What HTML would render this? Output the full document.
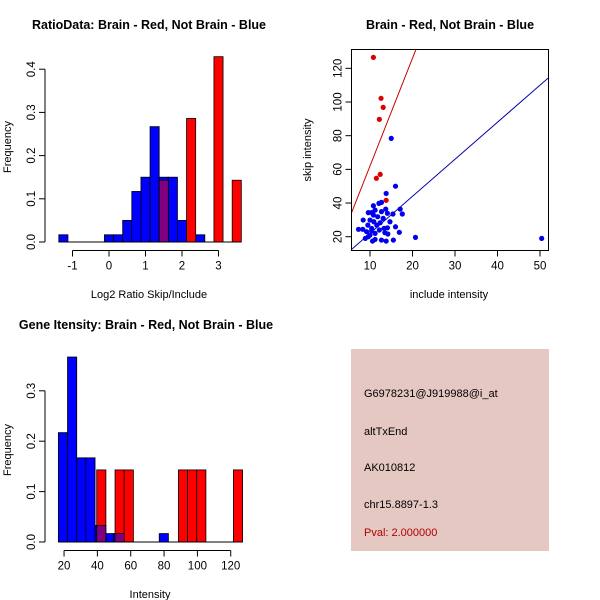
<!DOCTYPE html>
<html><head><meta charset="utf-8"><style>
body{margin:0;background:#fff}
svg{display:block;font-family:"Liberation Sans",sans-serif}
</style></head><body>
<svg id="c" width="600" height="600" viewBox="0 0 600 600"></svg>
<script>
// ---- Plot 1: ratio histogram ----
const ratioBlueStarts=[-1.375,-0.125,0.125,0.375,0.625,0.875,1.125,1.375,1.625,1.875,2.375];
const ratioBlueFreq=[0.0167,0.0167,0.0167,0.05,0.117,0.15,0.267,0.15,0.15,0.05,0.0167];
const ratioRedStarts=[1.375,2.125,2.875,3.375];
const ratioRedFreq=[0.143,0.286,0.429,0.143];
const ratioBinWidth=0.25;
const ratioXTicks=[-1,0,1,2,3];
const ratioYTicks=[0,0.1,0.2,0.3,0.4];
// ---- Plot 2: scatter ----
const redInclude=[10.8,12.6,13.1,12.2,12.4,11.5,13.8];
const redSkip=[126.5,102.2,96.8,89.7,57,54.7,41.6];
const blueInclude=[15,16,13.8,10.8,12.1,12.7,13.7,17.1,17.6,15.4,9.6,10.4,8.4,7.3,8.3,9.5,14.1,14.7,16,16.9,14.1,14.2,13.8,12.7,15.5,11.2,8.9,20.7,50.4,11.2,10,9.2,10.4,11.6,12.4,13.1,11.8,10.8,12.7,11.2,12.2,13.3,10.9,10,13.5,10.4,9.6,10.6];
const blueSkip=[78.4,50,45.7,38.4,39.8,40.4,36.4,36.4,33.5,33.5,34.3,34.3,29.9,24.4,24.4,26.9,33.9,28.9,25.9,22.6,25.3,21.6,17.4,18,18,18.4,19,19.6,19,22,21,23,24.9,26.9,28.3,30.9,31.9,32.9,34.9,35.8,24,25,28.9,29.9,22.4,23.6,20,17.4];
const redLine=[6.4,-2];   // slope, intercept
const blueLine=[2.2,0];
const scatXTicks=[10,20,30,40,50];
const scatYTicks=[20,40,60,80,100,120];
// ---- Plot 3: intensity histogram ----
const intBlueStarts=[16.6,22.1,27.6,33.1,38.6,44.1,49.6,77.1];
const intBlueFreq=[0.217,0.367,0.167,0.167,0.033,0.0167,0.0167,0.0167];
const intRedStarts=[39.6,50.6,56.1,88.6,94.1,99.6,121.6];
const intRedFreq=[0.143,0.143,0.143,0.143,0.143,0.143,0.143];
const intBinWidth=5.5;
const intXTicks=[20,40,60,80,100,120];
const intYTicks=[0,0.1,0.2,0.3];

const svg=document.getElementById('c');
const NS='http://www.w3.org/2000/svg';
function mk(tag,attrs,parent,txt){const e=document.createElementNS(NS,tag);for(const k in attrs)e.setAttribute(k,attrs[k]);if(txt!==undefined)e.textContent=txt;(parent||svg).appendChild(e);return e;}
function grp(name){const g=mk('g',{});return g;}

function axisX(g,ticks,sx,y,fmt){
  mk('line',{x1:sx(ticks[0]),x2:sx(ticks[ticks.length-1]),y1:y,y2:y,stroke:'#000'},g);
  ticks.forEach(t=>{mk('line',{x1:sx(t),x2:sx(t),y1:y,y2:y+6,stroke:'#000'},g);
    const tx=mk('text',{x:sx(t),y:y+19,'text-anchor':'middle','font-size':11.5},g,fmt?fmt(t):t);
    });
}
function axisY(g,ticks,sy,x,fmt){
  mk('line',{x1:x,x2:x,y1:sy(ticks[0]),y2:sy(ticks[ticks.length-1]),stroke:'#000'},g);
  ticks.forEach(t=>{mk('line',{x1:x,x2:x-6,y1:sy(t),y2:sy(t),stroke:'#000'},g);
    const tx=mk('text',{x:x-10,y:sy(t),'text-anchor':'middle','font-size':11.5,transform:`rotate(-90 ${x-10} ${sy(t)})`},g,fmt?fmt(t):t);
    });
}
function label(g,x,y,txt,name,opts){const t=mk('text',Object.assign({x:x,y:y,'text-anchor':'middle','font-size':11},opts||{}),g,txt);return t;}

function histo(g,bs,bf,rs,rf,w,sx,sy,name){
  bs.forEach((s,i)=>{const r=mk('rect',{x:sx(s),y:sy(bf[i]),width:sx(s+w)-sx(s),height:sy(0)-sy(bf[i]),fill:'#0000FF',stroke:'#000','stroke-width':0.8},g);
    });
  rs.forEach((s,i)=>{
    let ov=0;bs.forEach((b,j)=>{if(Math.abs(b-s)<w*0.6)ov=bf[j];});
    const r=mk('rect',{x:sx(s),y:sy(rf[i]),width:sx(s+w)-sx(s),height:sy(0)-sy(rf[i]),fill:'#FF0000',stroke:'#000','stroke-width':0.8},g);
    
    if(ov>0){const m=Math.min(ov,rf[i]);const p=mk('rect',{x:sx(s),y:sy(m),width:sx(s+w)-sx(s),height:sy(0)-sy(m),fill:'#800080',stroke:'#000','stroke-width':0.8},g);
      }
  });
}
const f1=t=>t.toFixed(1);

// Plot 1
(function(){
  const g=grp('ratio-histogram');
  const sx=v=>109+v*36.5, sy=v=>242-v*432;
  histo(g,ratioBlueStarts,ratioBlueFreq,ratioRedStarts,ratioRedFreq,ratioBinWidth,sx,sy,'ratio');
  mk('line',{x1:sx(-1.375),x2:sx(3.625),y1:242,y2:242,stroke:'#000'},g);
  axisX(g,ratioXTicks,sx,250.5);
  axisY(g,ratioYTicks,sy,45,f1);
  label(g,149,29,'RatioData: Brain - Red, Not Brain - Blue','ratio-title',{'font-weight':'bold','font-size':12.5});
  label(g,149,298,'Log2 Ratio Skip/Include','x-axis-title');
  label(g,11,147,'Frequency','y-axis-title',{transform:'rotate(-90 11 147)'});
})();

// Plot 2
(function(){
  const g=grp('intensity-scatter');
  const sx=v=>327.5+v*4.25, sy=v=>270.4-v*1.684;
  const cp=mk('clipPath',{id:'cp'},g);mk('rect',{x:351.5,y:49.5,width:197,height:201},cp);
  const lg=mk('g',{'clip-path':'url(#cp)'},g);
  const l1=mk('line',{x1:sx(0),y1:sy(redLine[1]),x2:sx(60),y2:sy(redLine[0]*60+redLine[1]),stroke:'#CC0000'},lg);
  
  const l2=mk('line',{x1:sx(0),y1:sy(blueLine[1]),x2:sx(60),y2:sy(blueLine[0]*60+blueLine[1]),stroke:'#0000AA'},lg);
  
  blueInclude.forEach((x,i)=>{const c=mk('circle',{cx:sx(x),cy:sy(blueSkip[i]),r:2.6,fill:'#0000EE'},lg);
    });
  redInclude.forEach((x,i)=>{const c=mk('circle',{cx:sx(x),cy:sy(redSkip[i]),r:2.6,fill:'#DD0000'},lg);
    });
  mk('rect',{x:351.5,y:49.5,width:197,height:201,fill:'none',stroke:'#000'},g);
  axisX(g,scatXTicks,sx,250.5);
  axisY(g,scatYTicks,sy,351.5);
  label(g,450,29,'Brain - Red, Not Brain - Blue','scatter-title',{'font-weight':'bold','font-size':12.5});
  label(g,449,298,'include intensity','x-axis-title');
  label(g,311,150,'skip intensity','y-axis-title',{transform:'rotate(-90 311 150)'});
})();

// Plot 3
(function(){
  const g=grp('intensity-histogram');
  const sx=v=>30.7+v*1.667, sy=v=>542-v*504;
  histo(g,intBlueStarts,intBlueFreq,intRedStarts,intRedFreq,intBinWidth,sx,sy,'intensity');
  mk('line',{x1:sx(16.6),x2:sx(127.1),y1:542,y2:542,stroke:'#000'},g);
  axisX(g,intXTicks,sx,550.5);
  axisY(g,intYTicks,sy,45,f1);
  label(g,146,329,'Gene Itensity: Brain - Red, Not Brain - Blue','intensity-title',{'font-weight':'bold','font-size':12.5});
  label(g,150,598,'Intensity','x-axis-title');
  label(g,11,450,'Frequency','y-axis-title',{transform:'rotate(-90 11 450)'});
})();

// Info box
(function(){
  const g=grp('info-panel');
  mk('rect',{x:351,y:349,width:198,height:202,fill:'#E6C8C2'},g);
  const lines=[['G6978231@J919988@i_at',393,'probe-id'],['altTxEnd',431,'event-type'],['AK010812',467,'accession'],['chr15.8897-1.3',504,'locus'],['Pval: 2.000000',532,'p-value']];
  lines.forEach(l=>{const t=mk('text',{x:364,y:l[1]+4,'font-size':11,fill:l[2]==='p-value'?'#B00000':'#000'},g,l[0]);
    });
})();
</script>
</body></html>
